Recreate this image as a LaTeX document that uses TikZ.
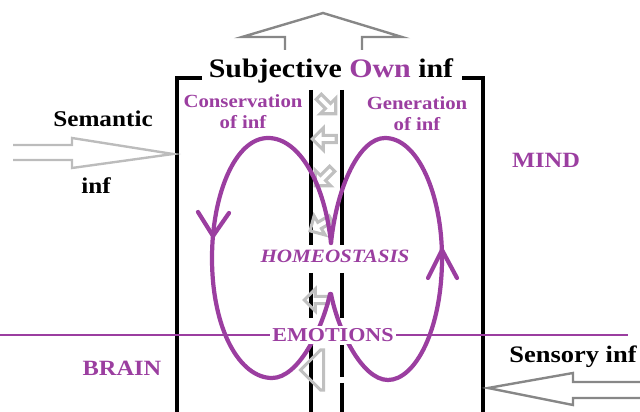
\documentclass[tikz,border=0pt]{standalone}
\usepackage{fontspec}
\setmainfont{Liberation Serif}[FakeStretch=1.12]
\usetikzlibrary{shapes.arrows}

\definecolor{violetline}{RGB}{155,62,160}
\definecolor{chgray}{RGB}{192,192,192}
\definecolor{lightarrow}{RGB}{188,188,188}
\definecolor{darkarrow}{RGB}{135,135,135}

\tikzset{
  txt/.style={inner sep=0pt, anchor=base},
  ptxt/.style={txt, text=violetline},
  wall/.style={line width=2.3pt, black},
  cycleline/.style={line width=3pt, violetline, line cap=round, line join=round},
  chanarrow/.style={single arrow, draw=chgray, line width=2.2pt, minimum height=6mm,
    minimum width=5.5mm, single arrow head extend=0.8mm, inner sep=0pt},
  bigarrow/.style={line width=1.7pt, line join=miter},
}

\begin{document}
\begin{tikzpicture}[x=0.025cm, y=-0.025cm]
  \useasboundingbox (0,0) rectangle (640,412);

  % outer frame and channel walls
  \draw[wall] (202,78) -- (177,78) -- (177,412);
  \draw[wall] (462,78) -- (483,78) -- (483,412);
  \foreach \x/\a/\b in {311/90/245, 311/273/318, 311/343/412,
                        342/90/245, 342/273/318, 342/345/377, 342/383/412} {
    \draw[wall] (\x,\a) -- (\x,\b);
  }

  % small arrows in the channel
  \foreach \px/\py/\ang [count=\k] in {326/104/-45, 326/139/180, 325/176/225, 322/224/210, 318/300/180} {
    \node[chanarrow, rotate=\ang] (ch\k) at (\px,\py) {};
  }
  \node[chanarrow, rotate=180, minimum width=10mm, minimum height=5.5mm,
        single arrow head extend=0mm] (ch6) at (322,370) {};

  % big outline arrows
  \draw[bigarrow, darkarrow] (285,50) -- (285,37) -- (242,37) -- (323,13)
        -- (402,37) -- (362,37) -- (362,50);
  \draw[bigarrow, lightarrow] (13,145) -- (72,145) -- (72,138) -- (173,154)
        -- (72,168) -- (72,160) -- (13,160);
  \draw[bigarrow, darkarrow] (640,382) -- (573,382) -- (573,373) -- (488,388)
        -- (573,405) -- (573,398) -- (640,398);

  % the two loops
  \draw[cycleline] (331,243) .. controls (325,185) and (300,138) .. (268,138)
        .. controls (235,138) and (212,195) .. (212,258)
        .. controls (212,330) and (240,378) .. (272,378)
        .. controls (298,378) and (322,330) .. (330,294);
  \draw[cycleline] (331,243) .. controls (337,185) and (360,138) .. (385,138)
        .. controls (418,138) and (442,195) .. (442,258)
        .. controls (442,330) and (415,380) .. (388,380)
        .. controls (362,380) and (338,330) .. (331,294);
  \draw[cycleline] (198,212) -- (213,236) -- (229,213);
  \draw[cycleline] (428,278) -- (442,250) -- (457,278);

  % emotions line
  \draw[line width=2pt, violetline] (0,335) -- (628,335);

  % texts
  \node[txt, font=\bfseries\fontsize{19}{22}\selectfont] (title) at (331,78)
       {Subjective \textcolor{violetline}{Own} inf};
  \node[txt, font=\bfseries\fontsize{16}{18}\selectfont] (sem) at (103,127) {Semantic};
  \node[txt, font=\bfseries\fontsize{16}{18}\selectfont] (seminf) at (96,194) {inf};
  \node[ptxt, anchor=center, align=center, font=\bfseries\fontsize{13.2}{15}\selectfont]
       (cons) at (243,112) {Conservation\\of inf};
  \node[ptxt, anchor=center, align=center, font=\bfseries\fontsize{13.2}{15}\selectfont]
       (gen) at (417,114) {Generation\\of inf};
  \node[ptxt, font=\bfseries\fontsize{15.5}{18}\selectfont] (mind) at (546,168) {MIND};
  \node[ptxt, font=\bfseries\fontsize{15.5}{18}\selectfont] (brain) at (122,376) {BRAIN};
  \node[txt, font=\bfseries\fontsize{16.8}{19}\selectfont] (sens) at (573,363) {Sensory inf};
  \node[ptxt, anchor=center, fill=white, inner sep=2pt,
        font=\bfseries\itshape\fontsize{13.4}{16}\selectfont] (homeo) at (335,256) {HOMEOSTASIS};
  \node[ptxt, anchor=center, fill=white, inner sep=2pt,
        font=\bfseries\fontsize{14}{16}\selectfont] (emo) at (333,335) {EMOTIONS};
\end{tikzpicture}
\end{document}
